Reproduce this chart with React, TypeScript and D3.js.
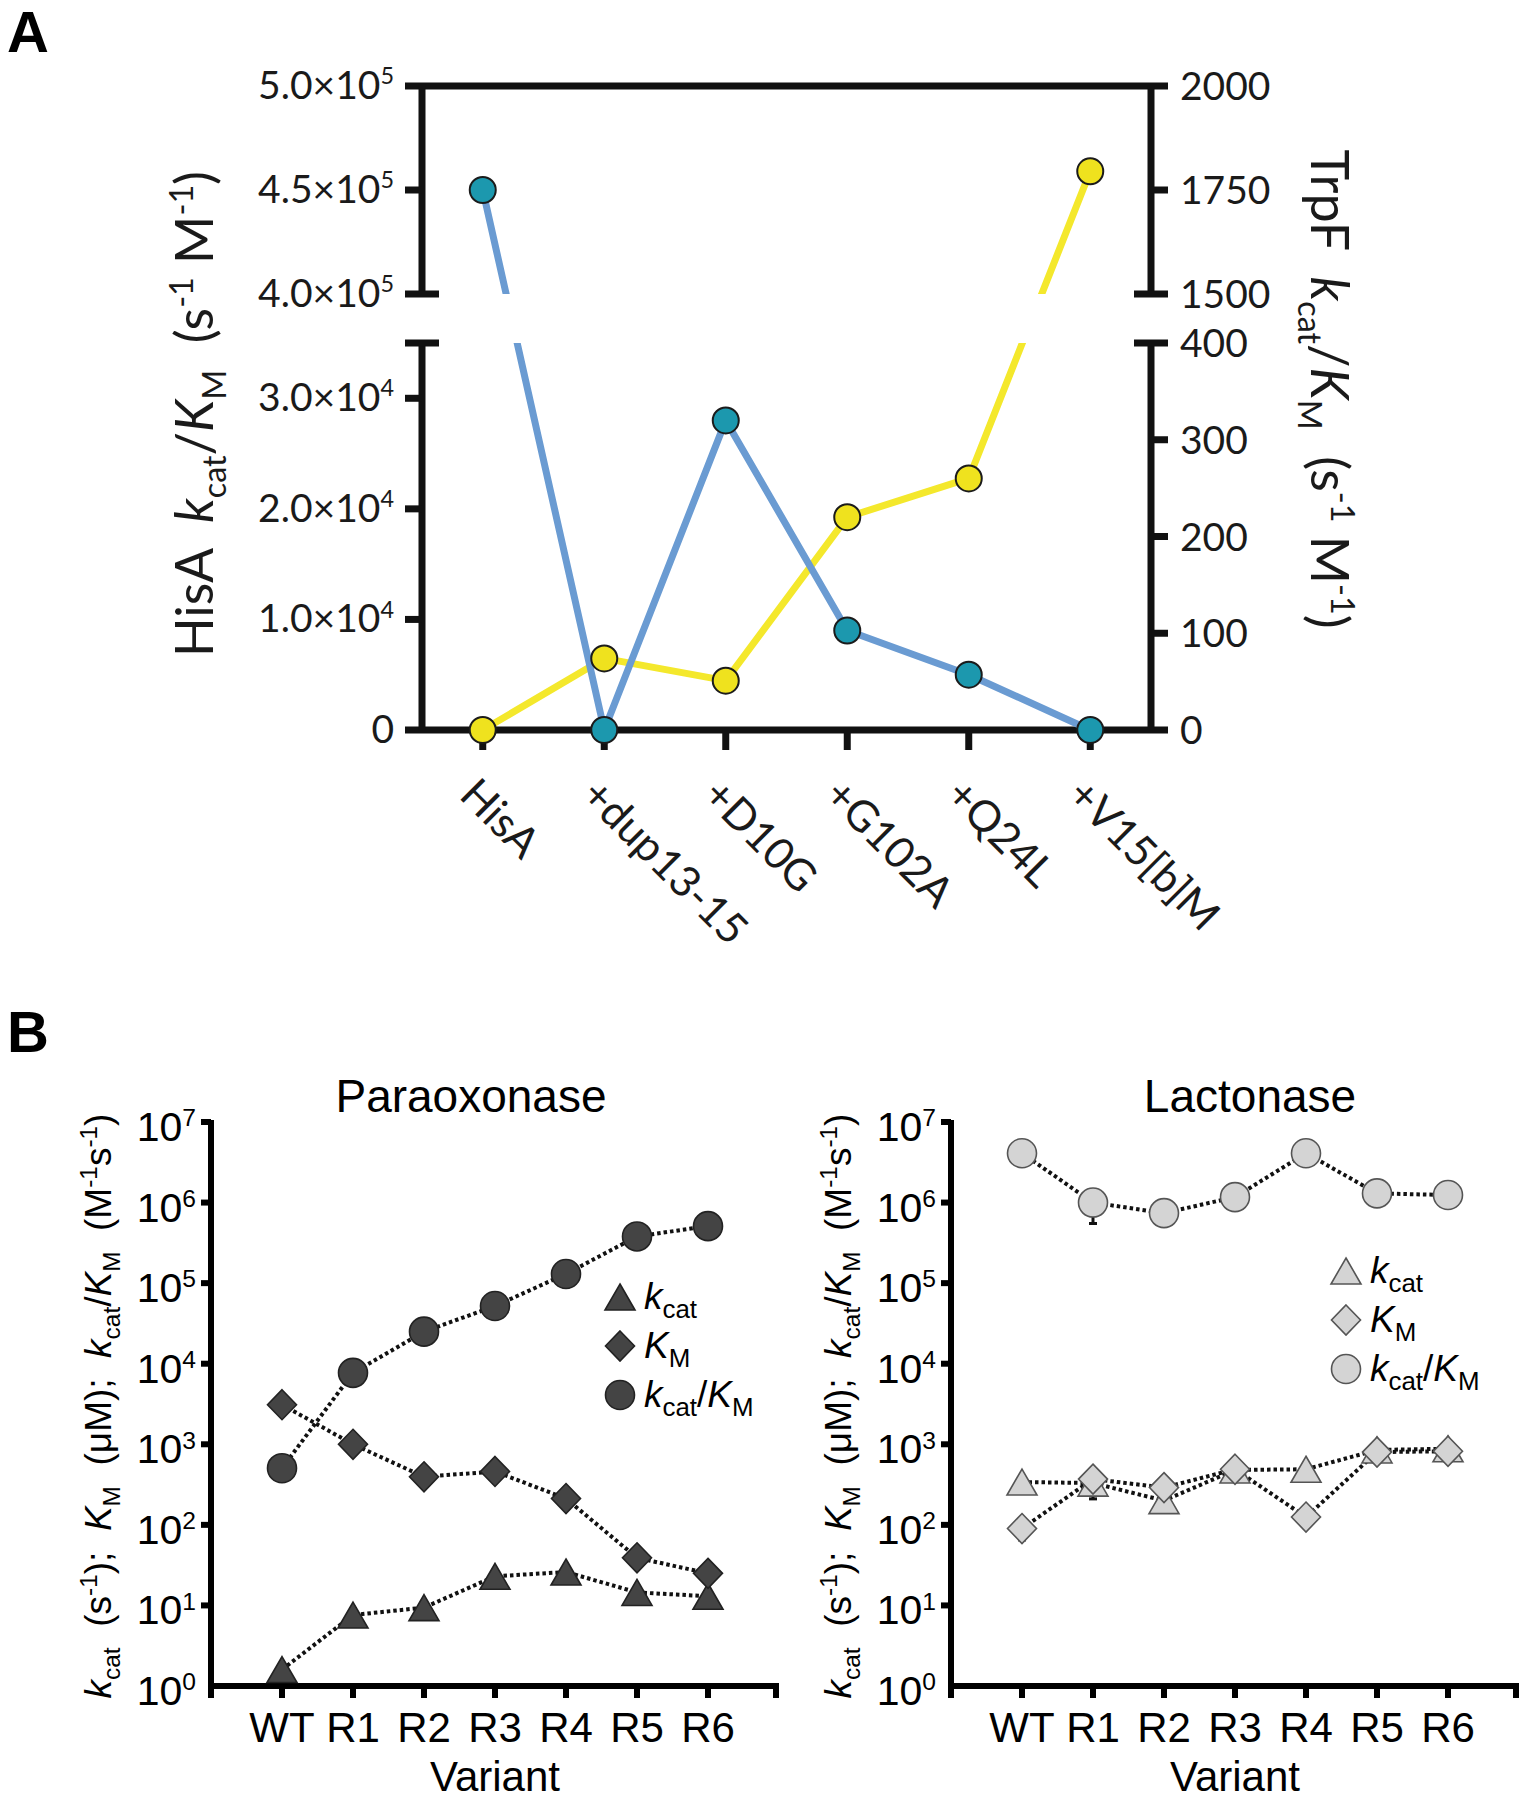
import React from "react";
import * as d3 from "d3";

// ---------- Panel A data ----------
const categoriesA = ["HisA", "+dup13-15", "+D10G", "+G102A", "+Q24L", "+V15[b]M"];
const hisAValues = [450000, 0, 28000, 9000, 5000, 0];
const trpFValues = [0, 74, 51, 220, 260, 1795];
const leftTicksUpper = [400000, 450000, 500000];
const leftTicksLower = [0, 10000, 20000, 30000];
const rightTicksUpper = [1500, 1750, 2000];
const rightTicksLower = [0, 100, 200, 300, 400];

// ---------- Panel B data ----------
const variants = ["WT", "R1", "R2", "R3", "R4", "R5", "R6"];
const paraKcat = [1.6, 7.6, 9.4, 23, 26, 14.5, 13];
const paraKm = [3100, 1000, 395, 460, 212, 39, 25];
const paraKcatKm = [505, 7700, 25000, 52000, 130000, 380000, 510000];
const paraKcatSD = [0, 1.5, 0, 0, 0, 0, 0];
const paraKmSD = [0, 0, 0, 0, 40, 0, 0];
const paraKcatKmSD = [0, 0, 0, 0, 40000, 0, 0];
const lactKcat = [340, 330, 200, 480, 490, 850, 880];
const lactKm = [90, 370, 290, 490, 125, 800, 820];
const lactKcatKm = [4.1e6, 1.0e6, 7.4e5, 1.17e6, 4.1e6, 1.3e6, 1.24e6];
const lactKcatSD = [0, 120, 0, 0, 0, 0, 0];
const lactKmSD = [25, 0, 0, 0, 0, 0, 0];
const lactKcatKmSD = [0, 4.5e5, 0, 0, 0, 0, 0];
const logTicks = [1, 10, 100, 1e3, 1e4, 1e5, 1e6, 1e7];

const FONT_A = "Lato, 'Open Sans', sans-serif";
const FONT_B = "'Liberation Sans', Arial, sans-serif";

type Seg = { t: string; i?: boolean; sub?: boolean; sup?: boolean };

function Rich(props: any) {
  const { segs, fs, ratio = 0.68, supShift = 0.38, ...rest } = props;
  let prev = 0;
  return (
    <text fontSize={fs} style={{ whiteSpace: "pre" }} {...rest}>
      {(segs as Seg[]).map((s, k) => {
        const shift = s.sub ? fs * 0.25 : s.sup ? -fs * supShift : 0;
        const dy = shift - prev;
        prev = shift;
        return (
          <tspan
            key={k}
            dy={dy !== 0 ? dy : undefined}
            fontSize={s.sub || s.sup ? fs * ratio : fs}
            fontStyle={s.i ? "italic" : undefined}
          >
            {s.t}
          </tspan>
        );
      })}
    </text>
  );
}

function sciSegs(v: number): Seg[] {
  if (v === 0) return [{ t: "0" }];
  const e = Math.floor(Math.log10(v) + 1e-9);
  const m = v / Math.pow(10, e);
  return [{ t: `${m.toFixed(1)}\u00d710` }, { t: String(e), sup: true }];
}

function PanelA() {
  const L = 422, R = 1151, TOP = 86, BOT = 730, GAP_T = 294, GAP_B = 343;
  const x = d3.scalePoint<string>().domain(categoriesA).range([L, R]).padding(0.5);
  const yLeftLow = d3.scaleLinear().domain([0, 35000]).range([BOT, GAP_B]);
  const yLeftUp = d3.scaleLinear().domain([400000, 500000]).range([GAP_T, TOP]);
  const yRightLow = d3.scaleLinear().domain([0, 400]).range([BOT, GAP_B]);
  const yRightUp = d3.scaleLinear().domain([1500, 2000]).range([GAP_T, TOP]);
  const yLeft = (v: number) => (v > 35000 ? yLeftUp(v) : yLeftLow(v));
  const yRight = (v: number) => (v > 400 ? yRightUp(v) : yRightLow(v));

  const lineL = d3.line<number>().x((_, i) => x(categoriesA[i])!).y((d) => yLeft(d));
  const lineR = d3.line<number>().x((_, i) => x(categoriesA[i])!).y((d) => yRight(d));

  const sw = 7;
  const tk = 17;
  const axisColor = "#111";
  const titleSegs = (name: string): Seg[] => [
    { t: name + "  " },
    { t: "k", i: true },
    { t: "cat", sub: true },
    { t: "/" },
    { t: "K", i: true },
    { t: "M", sub: true },
    { t: "  (s" },
    { t: "-1", sup: true },
    { t: " M" },
    { t: "-1", sup: true },
    { t: ")" },
  ];
  return (
    <g>
      <defs>
        <clipPath id="gapclip">
          <rect x={0} y={0} width={1526} height={GAP_T} />
          <rect x={0} y={GAP_B} width={1526} height={600} />
        </clipPath>
      </defs>
      <text x={7} y={52} fontFamily={FONT_B} fontWeight="bold" fontSize={58}>A</text>

      {/* axes */}
      <g stroke={axisColor} strokeWidth={sw} fill="none">
        <line x1={L - tk} x2={R + tk} y1={TOP} y2={TOP} />
        <line x1={L - tk} x2={R + tk} y1={BOT} y2={BOT} />
        <line x1={L} x2={L} y1={TOP} y2={GAP_T} />
        <line x1={L} x2={L} y1={GAP_B} y2={BOT} />
        <line x1={R} x2={R} y1={TOP} y2={GAP_T} />
        <line x1={R} x2={R} y1={GAP_B} y2={BOT} />
        <line x1={L - tk} x2={L + tk} y1={GAP_T} y2={GAP_T} />
        <line x1={L - tk} x2={L + tk} y1={GAP_B} y2={GAP_B} />
        <line x1={R - tk} x2={R + tk} y1={GAP_T} y2={GAP_T} />
        <line x1={R - tk} x2={R + tk} y1={GAP_B} y2={GAP_B} />
        {leftTicksUpper.slice(1, -1).map((t) => (
          <line key={"lu" + t} x1={L - tk} x2={L} y1={yLeftUp(t)} y2={yLeftUp(t)} />
        ))}
        {leftTicksLower.slice(1).map((t) => (
          <line key={"ll" + t} x1={L - tk} x2={L} y1={yLeftLow(t)} y2={yLeftLow(t)} />
        ))}
        {rightTicksUpper.slice(1, -1).map((t) => (
          <line key={"ru" + t} x1={R} x2={R + tk} y1={yRightUp(t)} y2={yRightUp(t)} />
        ))}
        {rightTicksLower.slice(1, -1).map((t) => (
          <line key={"rl" + t} x1={R} x2={R + tk} y1={yRightLow(t)} y2={yRightLow(t)} />
        ))}
        {categoriesA.map((c) => (
          <line key={"bt" + c} x1={x(c)} x2={x(c)} y1={BOT} y2={BOT + 20} />
        ))}
      </g>

      {/* tick labels */}
      <g fontFamily={FONT_A} fill="#1a1a1a">
        {[...leftTicksUpper.map((t) => [t, yLeftUp(t)]), ...leftTicksLower.map((t) => [t, yLeftLow(t)])].map(
          ([t, y]) => (
            <Rich key={"lt" + t} segs={sciSegs(t)} fs={39} ratio={0.6} x={394} y={y + 13} textAnchor="end" />
          )
        )}
        {[...rightTicksUpper.map((t) => [t, yRightUp(t)]), ...rightTicksLower.map((t) => [t, yRightLow(t)])].map(
          ([t, y]) => (
            <text key={"rt" + t} x={1180} y={y + 14} fontSize={39}>{String(t)}</text>
          )
        )}
        {categoriesA.map((c) => (
          <text key={"xl" + c} fontSize={43} transform={`translate(${x(c)! - 25},${797}) rotate(45)`}>{c}</text>
        ))}
      </g>

      {/* axis titles */}
      <Rich
        fontFamily={FONT_A}
        fill="#1a1a1a"
        fs={52}
        ratio={0.62}
        textAnchor="middle"
        transform={`translate(213,414) rotate(-90)`}
        segs={titleSegs("HisA")}
      />
      <Rich
        fontFamily={FONT_A}
        fill="#1a1a1a"
        fs={52}
        ratio={0.62}
        textAnchor="middle"
        transform={`translate(1311,389) rotate(90)`}
        segs={titleSegs("TrpF")}
      />

      {/* series lines */}
      <g clipPath="url(#gapclip)" fill="none" strokeLinejoin="round">
        <path d={lineR(trpFValues)!} stroke="#F4E82C" strokeWidth={7} />
        <path d={lineL(hisAValues)!} stroke="#6A9BD2" strokeWidth={7} />
      </g>
      {/* markers */}
      <g stroke="#1b1b1b" strokeWidth={2}>
        {trpFValues.map((v, i) => (
          <circle key={"ty" + i} cx={x(categoriesA[i])} cy={yRight(v)} r={13} fill="#EFE21E" />
        ))}
        {hisAValues.map((v, i) => (
          <circle key={"hb" + i} cx={x(categoriesA[i])} cy={yLeft(v)} r={13} fill="#1C98AE" />
        ))}
      </g>
    </g>
  );
}

const TRI = "M0,-13 L15,13 L-15,13 Z";
const DIA = "M0,-15 L14.5,0 L0,15 L-14.5,0 Z";

function Marker({ kind, x, y, fill, stroke }: any) {
  if (kind === "circle") return <circle cx={x} cy={y} r={14.5} fill={fill} stroke={stroke} strokeWidth={1.6} />;
  return (
    <path d={kind === "tri" ? TRI : DIA} transform={`translate(${x},${y})`} fill={fill} stroke={stroke} strokeWidth={1.6} />
  );
}

function Kinetics(props: any) {
  const { x0, title, titleX, kcat, km, kcatkm, sds, fill, stroke, legendX, legendY } = props;
  const W = 568;
  const Y0 = 1686, Y1 = 1122;
  const x = d3.scalePoint<string>().domain(variants).range([x0, x0 + W]).padding(1);
  const y = d3.scaleLog().domain([1, 1e7]).range([Y0, Y1]);
  const line = d3.line<number>().x((_, i) => x(variants[i])!).y((d) => y(d));
  const series = [
    { vals: kcat, kind: "tri", sd: sds[0] },
    { vals: km, kind: "dia", sd: sds[1] },
    { vals: kcatkm, kind: "circle", sd: sds[2] },
  ];
  const step = x.step();
  const legendLabels: Seg[][] = [
    [{ t: "k", i: true }, { t: "cat", sub: true }],
    [{ t: "K", i: true }, { t: "M", sub: true }],
    [{ t: "k", i: true }, { t: "cat", sub: true }, { t: "/" }, { t: "K", i: true }, { t: "M", sub: true }],
  ];
  return (
    <g fontFamily={FONT_B}>
      <text x={titleX} y={1112} fontSize={46} textAnchor="middle">{title}</text>
      {/* axes */}
      <g stroke="#000" strokeWidth={6}>
        <line x1={x0} x2={x0} y1={Y1 - 2} y2={Y0 + 12} />
        <line x1={x0} x2={x0 + W} y1={Y0} y2={Y0} />
        {logTicks.slice(1).map((t) => (
          <line key={"yt" + t} x1={x0 - 10} x2={x0} y1={y(t)} y2={y(t)} />
        ))}
        {variants.map((v) => (
          <line key={"xt" + v} x1={x(v)} x2={x(v)} y1={Y0} y2={Y0 + 12} />
        ))}
        <line x1={x0 + W - 3} x2={x0 + W - 3} y1={Y0} y2={Y0 + 12} />
      </g>
      {logTicks.map((t, i) => (
        <Rich
          key={"yl" + t}
          segs={[{ t: "10" }, { t: String(i), sup: true }]}
          fs={41}
          ratio={0.6}
          supShift={0.36}
          x={x0 - 15}
          y={y(t) + 19}
          textAnchor="end"
        />
      ))}
      {variants.map((v) => (
        <text key={"xl" + v} x={x(v)} y={1742} fontSize={42} textAnchor="middle">{v}</text>
      ))}
      <text x={x0 + step * 4} y={1791} fontSize={42} textAnchor="middle">Variant</text>
      <Rich
        fs={37}
        ratio={0.66}
        textAnchor="middle"
        transform={`translate(${x0 - 100},${(Y0 + Y1) / 2 + 2}) rotate(-90)`}
        segs={[
          { t: "k", i: true },
          { t: "cat", sub: true },
          { t: "  (s" },
          { t: "-1", sup: true },
          { t: ");  " },
          { t: "K", i: true },
          { t: "M", sub: true },
          { t: "  (\u03bcM);  " },
          { t: "k", i: true },
          { t: "cat", sub: true },
          { t: "/" },
          { t: "K", i: true },
          { t: "M", sub: true },
          { t: "  (M" },
          { t: "-1", sup: true },
          { t: "s" },
          { t: "-1", sup: true },
          { t: ")" },
        ]}
      />
      {/* dotted lines */}
      <g fill="none" stroke="#111" strokeWidth={4} strokeDasharray="3.5 3">
        {series.map((s, k) => (
          <path key={"ln" + k} d={line(s.vals)!} />
        ))}
      </g>
      {/* error bars */}
      <g stroke="#111" strokeWidth={3}>
        {series.map((s, k) =>
          s.vals.map((v: number, i: number) =>
            s.sd[i] > 0 ? (
              <g key={`eb${k}-${i}`}>
                <line x1={x(variants[i])} x2={x(variants[i])} y1={y(v - s.sd[i])} y2={y(v + s.sd[i])} />
                <line x1={x(variants[i])! - 4} x2={x(variants[i])! + 4} y1={y(v - s.sd[i])} y2={y(v - s.sd[i])} />
                <line x1={x(variants[i])! - 4} x2={x(variants[i])! + 4} y1={y(v + s.sd[i])} y2={y(v + s.sd[i])} />
              </g>
            ) : null
          )
        )}
      </g>
      {/* markers */}
      {series.map((s, k) =>
        s.vals.map((v: number, i: number) => (
          <Marker key={`m${k}-${i}`} kind={s.kind} x={x(variants[i])} y={y(v)} fill={fill} stroke={stroke} />
        ))
      )}
      {/* legend */}
      {series.map((s, k) => (
        <g key={"lg" + k}>
          <Marker kind={s.kind} x={legendX} y={legendY + k * 49} fill={fill} stroke={stroke} />
          <Rich segs={legendLabels[k]} fs={37} ratio={0.7} x={legendX + 24} y={legendY + k * 49 + 12} />
        </g>
      ))}
    </g>
  );
}

export default function App() {
  return (
    <svg
      width={1526}
      height={1800}
      viewBox="0 0 1526 1800"
      style={{ position: "absolute", left: 0, top: 0, display: "block" }}
    >
      <rect x={0} y={0} width={1526} height={1800} fill="#fff" />
      <PanelA />
      <text x={7} y={1052} fontFamily={FONT_B} fontWeight="bold" fontSize={58}>B</text>
      <Kinetics
        x0={211}
        title="Paraoxonase"
        titleX={471}
        kcat={paraKcat}
        km={paraKm}
        kcatkm={paraKcatKm}
        sds={[paraKcatSD, paraKmSD, paraKcatKmSD]}
        fill="#444444"
        stroke="#222"
        legendX={620}
        legendY={1297}
      />
      <Kinetics
        x0={951}
        title="Lactonase"
        titleX={1250}
        kcat={lactKcat}
        km={lactKm}
        kcatkm={lactKcatKm}
        sds={[lactKcatSD, lactKmSD, lactKcatKmSD]}
        fill="#D4D4D4"
        stroke="#555"
        legendX={1346}
        legendY={1271}
      />
    </svg>
  );
}
